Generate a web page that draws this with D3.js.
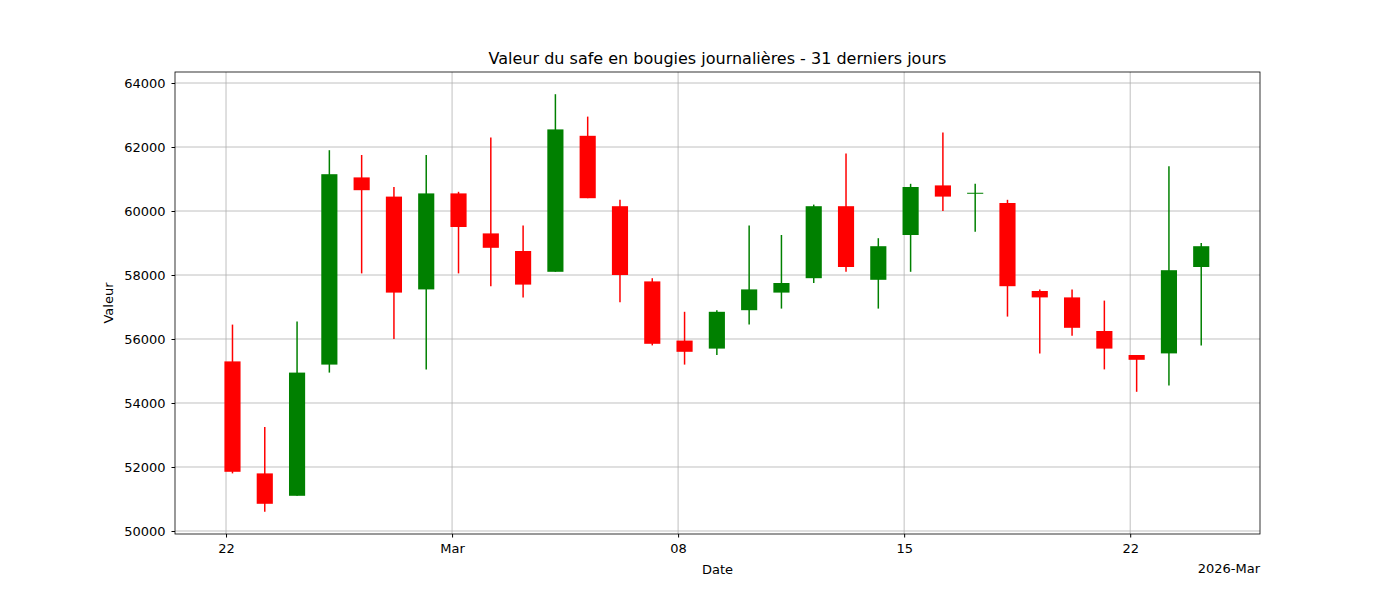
<!DOCTYPE html><html><head><meta charset="utf-8"><script src="https://cdn.jsdelivr.net/npm/d3@7"></script>
<style>body{margin:0;background:#fff}text{font-family:"DejaVu Sans",sans-serif}</style></head><body><svg id="c" width="1400" height="600"></svg><script>
const dayIndex=d3.range(31); // day offset from 2026-02-22
const opens =[55300,51800,51100,55200,61050,60450,57550,60550,59300,58750,58100,62350,60150,57800,55950,55700,56900,57450,57900,60150,57850,59250,60800,60550,60250,57500,57300,56250,55500,55550,58250];
const highs =[56450,53250,56550,61900,61750,60750,61750,60600,62300,59550,63650,62950,60350,57900,56850,56900,59550,59250,60200,61800,59150,60850,62450,60850,60350,57550,57550,57200,55500,61400,59000];
const lows  =[51800,50600,51100,54950,58050,56000,55050,58050,57650,57300,58100,60400,57150,55800,55200,55500,56450,56950,57750,58100,56950,58100,60000,59350,56700,55550,56100,55050,54350,54550,55800];
const closes=[51850,50850,54950,61150,60650,57450,60550,59500,58850,57700,62550,60400,58000,55850,55600,56850,57550,57750,60150,58250,58900,60750,60450,60570,57650,57300,56350,55700,55350,58150,58900];
const xTickDays=[0,7,14,21,28];
const xTickLabels=["22","Mar","08","15","22"];
const yTicks=[50000,52000,54000,56000,58000,60000,62000,64000];
const svg=d3.select("#c");
const L=175,R=1260,T=72,B=534;
const x=d3.scaleLinear().domain([-1.58,32.02]).range([L,R]);
const y=d3.scaleLinear().domain([49906,64344]).range([B,T]);
const g=svg.append("g");
g.selectAll(".gx").data(xTickDays).join("line").attr("x1",d=>x(d)).attr("x2",d=>x(d)).attr("y1",T).attr("y2",B).attr("stroke","#b0b0b0").attr("stroke-width",0.8);
g.selectAll(".gy").data(yTicks).join("line").attr("x1",L).attr("x2",R).attr("y1",d=>y(d)).attr("y2",d=>y(d)).attr("stroke","#b0b0b0").attr("stroke-width",0.8);
const off=0.2,w=x(0.5)-x(0);
const col=i=>closes[i]>=opens[i]?"green":"red";
g.selectAll(".wk").data(dayIndex).join("line").attr("x1",i=>x(i+off)).attr("x2",i=>x(i+off)).attr("y1",i=>y(highs[i])).attr("y2",i=>y(lows[i])).attr("stroke",col).attr("stroke-width",1.5);
g.selectAll(".bd").data(dayIndex).join("rect").attr("x",i=>x(i+off)-w/2).attr("width",w)
 .attr("y",i=>y(Math.max(opens[i],closes[i]))).attr("height",i=>Math.max(1,Math.abs(y(opens[i])-y(closes[i])))).attr("fill",col);
svg.append("rect").attr("x",L).attr("y",T).attr("width",R-L).attr("height",B-T).attr("fill","none").attr("stroke","#000").attr("stroke-width",0.8);
const xa=svg.append("g").attr("transform",`translate(0,${B})`).call(d3.axisBottom(x).tickValues(xTickDays).tickFormat((d,i)=>xTickLabels[i]).tickSizeOuter(0).tickSize(3.5).tickPadding(6));
const ya=svg.append("g").attr("transform",`translate(${L},0)`).call(d3.axisLeft(y).tickValues(yTicks).tickFormat(d3.format("d")).tickSizeOuter(0).tickSize(3.5).tickPadding(6));
[xa,ya].forEach(a=>{a.select(".domain").remove();a.selectAll("text").attr("font-size",13).attr("fill","#000");});
svg.append("text").attr("x",(L+R)/2).attr("y",64).attr("text-anchor","middle").attr("font-size",16).text("Valeur du safe en bougies journalières - 31 derniers jours");
svg.append("text").attr("x",(L+R)/2).attr("y",574).attr("text-anchor","middle").attr("font-size",13).text("Date");
svg.append("text").attr("x",R).attr("y",573).attr("text-anchor","end").attr("font-size",13).text("2026-Mar");
svg.append("text").attr("transform","translate(113,303) rotate(-90)").attr("text-anchor","middle").attr("font-size",13).text("Valeur");
</script></body></html>
